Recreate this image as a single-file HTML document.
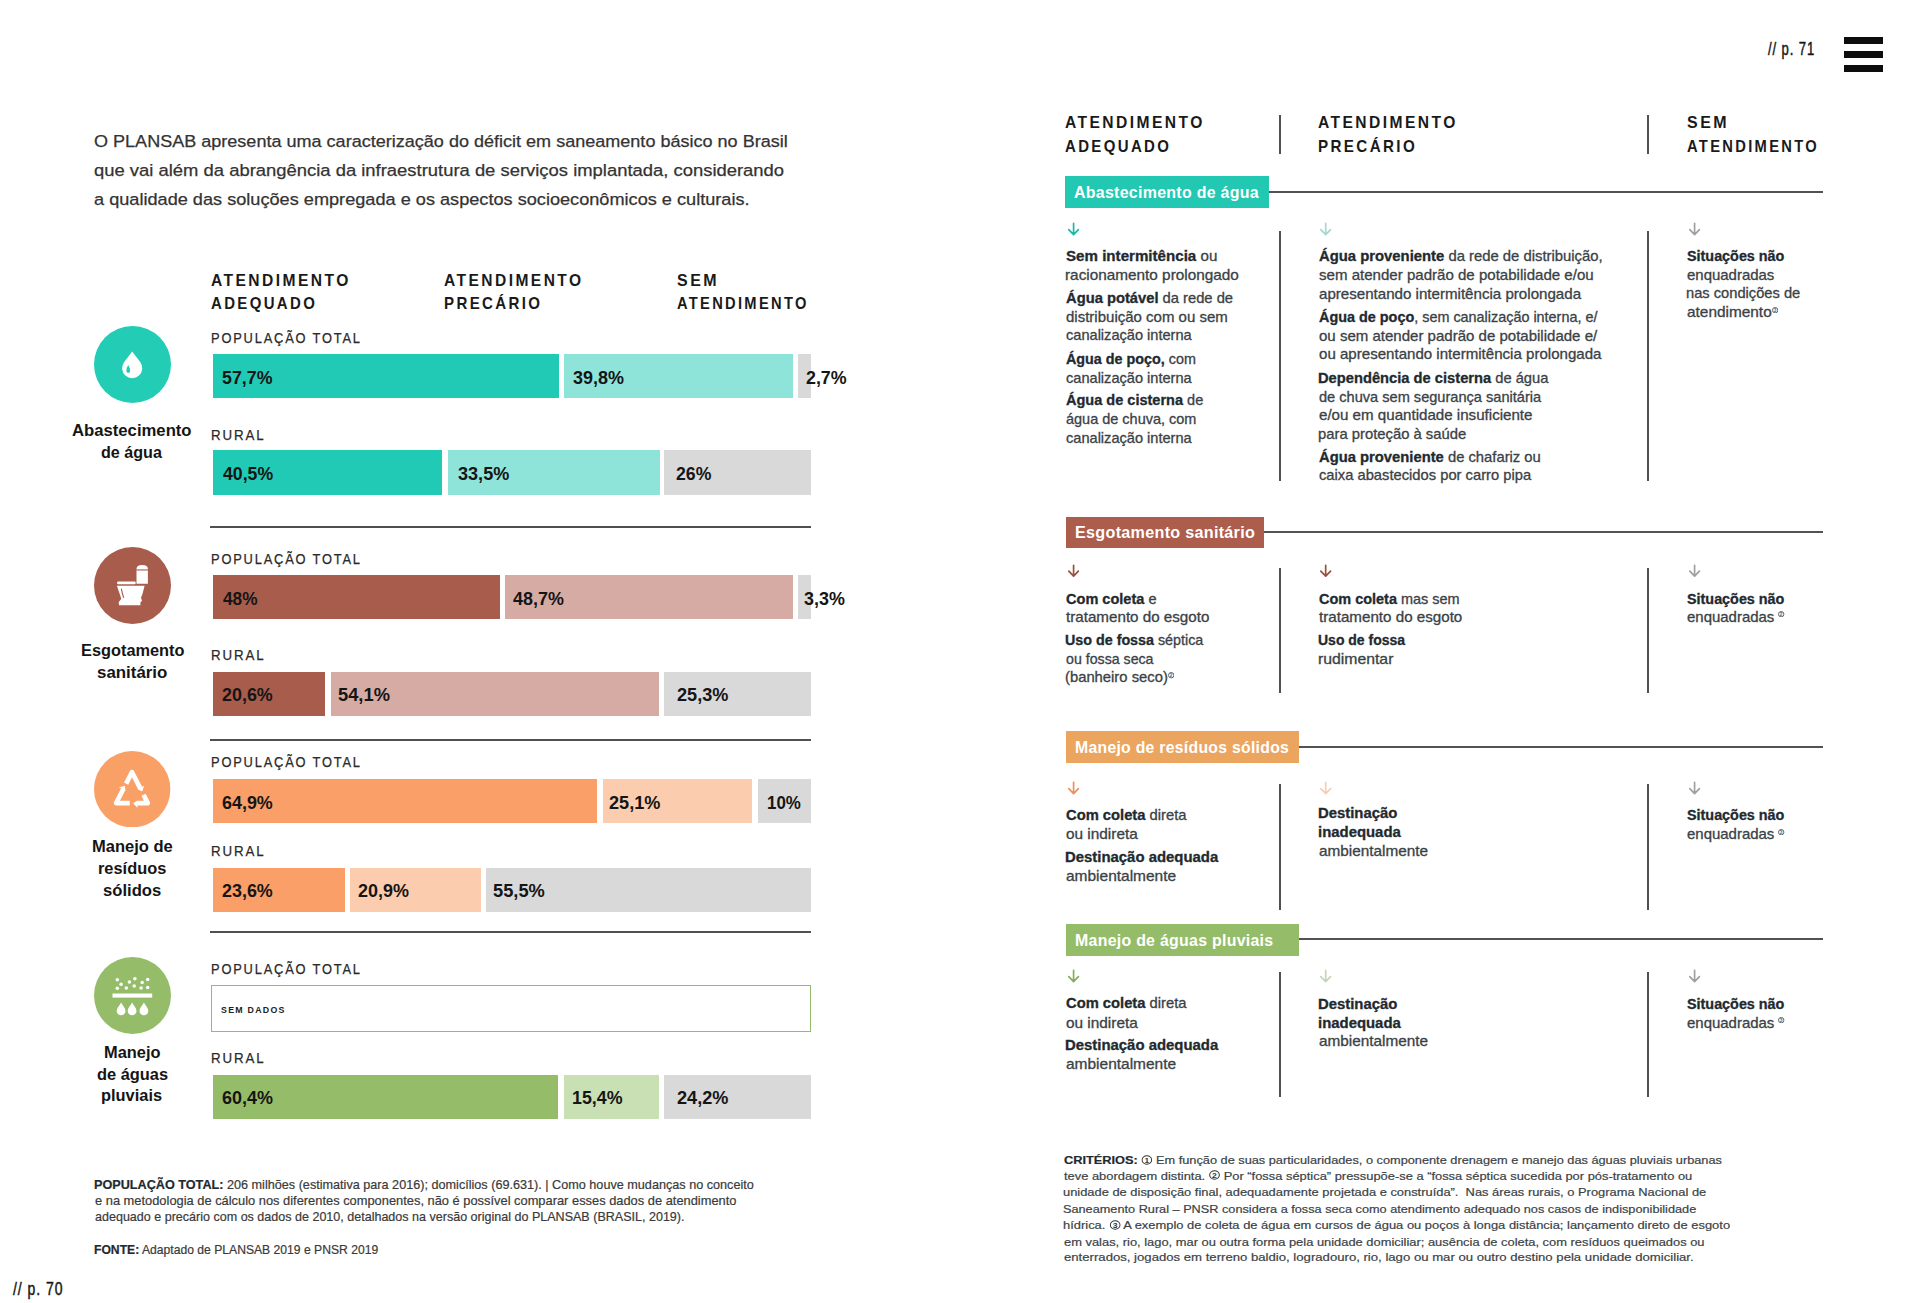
<!DOCTYPE html>
<html lang="pt-BR"><head><meta charset="utf-8"><title>PLANSAB – p. 70-71</title>
<style>
html,body{margin:0;padding:0;background:#fff;}
body{width:1920px;height:1303px;position:relative;overflow:hidden;font-family:"Liberation Sans",sans-serif;}
.r{position:absolute;display:block;}
.t{position:absolute;white-space:nowrap;line-height:normal;transform-origin:0 0;}
.t b{font-weight:700;color:#1f2a30;}
.cn{vertical-align:-0.5px;}
</style></head><body>
<div class="r" style="left:212.6px;top:354px;width:346.9px;height:44.3px;background:#21cab5;"></div>
<div class="r" style="left:564.1px;top:354px;width:229.1px;height:44.3px;background:#8ee4d9;"></div>
<div class="r" style="left:798.2px;top:354px;width:12.5px;height:44.3px;background:#d9d9d9;"></div>
<div class="r" style="left:212.6px;top:450.2px;width:229.6px;height:44.5px;background:#21cab5;"></div>
<div class="r" style="left:447.6px;top:450.2px;width:212px;height:44.5px;background:#8ee4d9;"></div>
<div class="r" style="left:664.4px;top:450.2px;width:146.3px;height:44.5px;background:#d9d9d9;"></div>
<div class="r" style="left:212.6px;top:575.3px;width:287.4px;height:44.2px;background:#a85c4c;"></div>
<div class="r" style="left:505.3px;top:575.3px;width:287.6px;height:44.2px;background:#d5aba3;"></div>
<div class="r" style="left:798.3px;top:575.3px;width:12.4px;height:44.2px;background:#d9d9d9;"></div>
<div class="r" style="left:212.6px;top:671.8px;width:112.4px;height:43.8px;background:#a85c4c;"></div>
<div class="r" style="left:330.5px;top:671.8px;width:328.7px;height:43.8px;background:#d5aba3;"></div>
<div class="r" style="left:664.4px;top:671.8px;width:146.3px;height:43.8px;background:#d9d9d9;"></div>
<div class="r" style="left:212.6px;top:779.4px;width:384.7px;height:44.1px;background:#fa9f68;"></div>
<div class="r" style="left:602.5px;top:779.4px;width:149.8px;height:44.1px;background:#fbcdae;"></div>
<div class="r" style="left:757.7px;top:779.4px;width:53px;height:44.1px;background:#d9d9d9;"></div>
<div class="r" style="left:212.6px;top:868.3px;width:132.1px;height:43.7px;background:#fa9f68;"></div>
<div class="r" style="left:350px;top:868.3px;width:130.5px;height:43.7px;background:#fbcdae;"></div>
<div class="r" style="left:485.7px;top:868.3px;width:325px;height:43.7px;background:#d9d9d9;"></div>
<div class="r" style="left:212.6px;top:1074.7px;width:345.9px;height:44.5px;background:#95bd69;"></div>
<div class="r" style="left:563.8px;top:1074.7px;width:95.4px;height:44.5px;background:#c8e0b3;"></div>
<div class="r" style="left:664.4px;top:1074.7px;width:146.3px;height:44.5px;background:#d9d9d9;"></div>
<div class="r" style="left:210px;top:525.6px;width:601px;height:2px;background:#505050;"></div>
<div class="r" style="left:210px;top:738.6px;width:601px;height:2px;background:#505050;"></div>
<div class="r" style="left:210px;top:930.6px;width:601px;height:2px;background:#505050;"></div>
<div class="r" style="left:210.5px;top:984.8px;width:600.2px;height:46.8px;box-sizing:border-box;border:1.8px solid #95bd69;"></div>
<div class="r" style="left:1268.7px;top:190.8px;width:554.5px;height:2px;background:#525252;"></div>
<div class="r" style="left:1065.4px;top:176.3px;width:203.3px;height:31.3px;background:#22c8b2;"></div>
<div class="r" style="left:1263.8px;top:531.4px;width:559.4px;height:2px;background:#525252;"></div>
<div class="r" style="left:1065.6px;top:516.8px;width:198.2px;height:31.3px;background:#ad5d4c;"></div>
<div class="r" style="left:1298.9px;top:746.1px;width:524.3px;height:2px;background:#525252;"></div>
<div class="r" style="left:1065.6px;top:731.4px;width:233.3px;height:31.3px;background:#eca55f;"></div>
<div class="r" style="left:1298.6px;top:937.6px;width:524.6px;height:2px;background:#525252;"></div>
<div class="r" style="left:1065.5px;top:924.1px;width:233.1px;height:31.7px;background:#95bd69;"></div>
<div class="r" style="left:1279px;top:115.4px;width:2px;height:38.4px;background:#505050;"></div>
<div class="r" style="left:1646.6px;top:115.4px;width:2px;height:38.4px;background:#505050;"></div>
<div class="r" style="left:1279px;top:230.6px;width:2px;height:250.8px;background:#505050;"></div>
<div class="r" style="left:1646.6px;top:230.6px;width:2px;height:250.8px;background:#505050;"></div>
<div class="r" style="left:1279px;top:567.9px;width:2px;height:124.9px;background:#505050;"></div>
<div class="r" style="left:1646.6px;top:567.9px;width:2px;height:124.9px;background:#505050;"></div>
<div class="r" style="left:1279px;top:784.2px;width:2px;height:125.7px;background:#505050;"></div>
<div class="r" style="left:1646.6px;top:784.2px;width:2px;height:125.7px;background:#505050;"></div>
<div class="r" style="left:1279px;top:972px;width:2px;height:125.3px;background:#505050;"></div>
<div class="r" style="left:1646.6px;top:972px;width:2px;height:125.3px;background:#505050;"></div>
<div class="r" style="left:1843.8px;top:37.1px;width:39.5px;height:6.7px;background:#0d0d0d;"></div>
<div class="r" style="left:1843.8px;top:51.2px;width:39.5px;height:6.7px;background:#0d0d0d;"></div>
<div class="r" style="left:1843.8px;top:65.3px;width:39.5px;height:6.8px;background:#0d0d0d;"></div>
<svg class="r" style="left:1067.6px;top:222.6px;overflow:visible" width="11.2" height="12.2" viewBox="0 0 11.2 12.2"><path d="M5.6 0.3 V11.3 M0.8 6.6 L5.6 11.6 L10.4 6.6" fill="none" stroke="#1fb8a4" stroke-width="1.7" stroke-linecap="round" stroke-linejoin="round"/></svg>
<svg class="r" style="left:1319.8px;top:222.6px;overflow:visible" width="11.4" height="12.2" viewBox="0 0 11.4 12.2"><path d="M5.7 0.3 V11.3 M0.8 6.6 L5.7 11.6 L10.6 6.6" fill="none" stroke="#a9d6ce" stroke-width="1.7" stroke-linecap="round" stroke-linejoin="round"/></svg>
<svg class="r" style="left:1689.2px;top:222.6px;overflow:visible" width="11.2" height="12.2" viewBox="0 0 11.2 12.2"><path d="M5.6 0.3 V11.3 M0.8 6.6 L5.6 11.6 L10.4 6.6" fill="none" stroke="#a0a0a0" stroke-width="1.7" stroke-linecap="round" stroke-linejoin="round"/></svg>
<svg class="r" style="left:1067.6px;top:564.8px;overflow:visible" width="11.2" height="11.8" viewBox="0 0 11.2 11.8"><path d="M5.6 0.3 V10.9 M0.8 6.2 L5.6 11.2 L10.4 6.2" fill="none" stroke="#98503f" stroke-width="1.7" stroke-linecap="round" stroke-linejoin="round"/></svg>
<svg class="r" style="left:1319.8px;top:564.8px;overflow:visible" width="11.4" height="11.8" viewBox="0 0 11.4 11.8"><path d="M5.7 0.3 V10.9 M0.8 6.2 L5.7 11.2 L10.6 6.2" fill="none" stroke="#98503f" stroke-width="1.7" stroke-linecap="round" stroke-linejoin="round"/></svg>
<svg class="r" style="left:1689.2px;top:564.8px;overflow:visible" width="11.2" height="11.8" viewBox="0 0 11.2 11.8"><path d="M5.6 0.3 V10.9 M0.8 6.2 L5.6 11.2 L10.4 6.2" fill="none" stroke="#a0a0a0" stroke-width="1.7" stroke-linecap="round" stroke-linejoin="round"/></svg>
<svg class="r" style="left:1067.6px;top:781.6px;overflow:visible" width="11.2" height="12.2" viewBox="0 0 11.2 12.2"><path d="M5.6 0.3 V11.3 M0.8 6.6 L5.6 11.6 L10.4 6.6" fill="none" stroke="#f08f5a" stroke-width="1.7" stroke-linecap="round" stroke-linejoin="round"/></svg>
<svg class="r" style="left:1319.8px;top:781.6px;overflow:visible" width="11.4" height="12.2" viewBox="0 0 11.4 12.2"><path d="M5.7 0.3 V11.3 M0.8 6.6 L5.7 11.6 L10.6 6.6" fill="none" stroke="#f8cdb4" stroke-width="1.7" stroke-linecap="round" stroke-linejoin="round"/></svg>
<svg class="r" style="left:1689.2px;top:781.6px;overflow:visible" width="11.2" height="12.2" viewBox="0 0 11.2 12.2"><path d="M5.6 0.3 V11.3 M0.8 6.6 L5.6 11.6 L10.4 6.6" fill="none" stroke="#a0a0a0" stroke-width="1.7" stroke-linecap="round" stroke-linejoin="round"/></svg>
<svg class="r" style="left:1067.6px;top:969.9px;overflow:visible" width="11.2" height="12.2" viewBox="0 0 11.2 12.2"><path d="M5.6 0.3 V11.3 M0.8 6.6 L5.6 11.6 L10.4 6.6" fill="none" stroke="#86ad5e" stroke-width="1.7" stroke-linecap="round" stroke-linejoin="round"/></svg>
<svg class="r" style="left:1319.8px;top:969.9px;overflow:visible" width="11.4" height="12.2" viewBox="0 0 11.4 12.2"><path d="M5.7 0.3 V11.3 M0.8 6.6 L5.7 11.6 L10.6 6.6" fill="none" stroke="#c6d4b7" stroke-width="1.7" stroke-linecap="round" stroke-linejoin="round"/></svg>
<svg class="r" style="left:1689.2px;top:969.9px;overflow:visible" width="11.2" height="12.2" viewBox="0 0 11.2 12.2"><path d="M5.6 0.3 V11.3 M0.8 6.6 L5.6 11.6 L10.4 6.6" fill="none" stroke="#a0a0a0" stroke-width="1.7" stroke-linecap="round" stroke-linejoin="round"/></svg>
<svg class="r" style="left:93.9px;top:326.3px" width="77" height="77" viewBox="93.9 326.3 77 77"><circle cx="132.4" cy="364.8" r="38.5" fill="#22ccb5"/><path d="M132.1 351.9 L140.11 362.3 A10.1 10.1 0 1 1 124.09 362.3 Z" fill="#fff"/><path d="M128.1 365.4 Q130.1 368.6 130.05 371.2 A1.9 1.9 0 0 1 126.25 371.2 Q126.2 368.6 128.1 365.4 Z" fill="#21cab5"/></svg>
<svg class="r" style="left:94.3px;top:546.7px" width="77" height="77" viewBox="94.3 546.7 77 77"><circle cx="132.8" cy="585.2" r="38.5" fill="#a85c4c"/><path d="M136.8 583.5 V568.6 Q136.8 564.7 142.5 564.7 Q148.2 564.7 148.2 568.6 V583.5 Z" fill="#fff"/><rect x="136.5" y="569.1" width="12" height="1.1" fill="#a85c4c"/><rect x="117.4" y="581.1" width="18.6" height="2.9" rx="1.1" fill="#fff"/><path d="M117.2 585.5 H144.9 L142.9 593.2 L141.3 597.4 L142.3 600.4 L140.7 602.2 V604.9 H119.3 L119.0 601.9 L121.6 598.4 Z" fill="#fff"/><path d="M121.6 588.3 Q122.6 593.2 124.0 597.6" fill="none" stroke="#a85c4c" stroke-width="1.1"/></svg>
<svg class="r" style="left:94.3px;top:750.8px" width="76.4" height="76.4" viewBox="94.3 750.8 76.4 76.4"><circle cx="132.5" cy="789" r="38.2" fill="#f9a066"/><g fill="none" stroke="#fff" stroke-width="4.7" stroke-linejoin="round" stroke-linecap="butt"><path d="M126.42 783.43 L132.30 772.00 L140.48 787.99"/><path d="M143.83 794.56 L148.10 802.90 L137.42 802.90"/><path d="M130.03 802.90 L116.40 802.90 L123.52 789.06"/></g><g fill="#fff"><path d="M137.98 788.93 L144.48 785.61 L142.43 791.38 Z"/><path d="M137.72 800.25 L137.72 807.55 L133.52 803.10 Z"/><path d="M125.74 790.54 L119.25 787.20 L125.13 785.50 Z"/></g></svg>
<svg class="r" style="left:94px;top:957px" width="77" height="77" viewBox="94 957 77 77"><circle cx="132.5" cy="995.5" r="38.5" fill="#95bd69"/><circle cx="117.3" cy="979.7" r="1.75" fill="#fff"/><circle cx="129.4" cy="982.1" r="1.75" fill="#fff"/><circle cx="134.9" cy="978.7" r="1.75" fill="#fff"/><circle cx="147.7" cy="979.4" r="1.75" fill="#fff"/><circle cx="121.1" cy="984.2" r="1.75" fill="#fff"/><circle cx="134.2" cy="985.9" r="1.75" fill="#fff"/><circle cx="142.2" cy="982.5" r="1.75" fill="#fff"/><circle cx="117.3" cy="988.3" r="1.75" fill="#fff"/><circle cx="126.3" cy="988" r="1.75" fill="#fff"/><circle cx="141.1" cy="988" r="1.75" fill="#fff"/><circle cx="147.7" cy="987.6" r="1.75" fill="#fff"/><rect x="112.5" y="993.5" width="39.7" height="4.1" fill="#fff"/><path d="M121.1 1002.5 C119.6 1005.5 116.69999999999999 1008 116.69999999999999 1010.9 A4.4 4.4 0 0 0 125.5 1010.9 C125.5 1008 122.6 1005.5 121.1 1002.5 Z" fill="#fff"/><path d="M132.1 1002.5 C130.6 1005.5 127.69999999999999 1008 127.69999999999999 1010.9 A4.4 4.4 0 0 0 136.5 1010.9 C136.5 1008 133.6 1005.5 132.1 1002.5 Z" fill="#fff"/><path d="M143.9 1002.5 C142.4 1005.5 139.5 1008 139.5 1010.9 A4.4 4.4 0 0 0 148.3 1010.9 C148.3 1008 145.4 1005.5 143.9 1002.5 Z" fill="#fff"/></svg>
<svg class="r" style="left:1771.9px;top:306.8px" width="6.4" height="6.4" viewBox="0 0 6.4 6.4"><circle cx="3.2" cy="3.2" r="2.7" fill="none" stroke="#5f6468" stroke-width="1.0"/><text x="3.2" y="5.1" font-size="4.8" text-anchor="middle" fill="#5f6468" font-family="Liberation Sans" font-weight="700">3</text></svg>
<svg class="r" style="left:1167.8px;top:672.4px" width="6.4" height="6.4" viewBox="0 0 6.4 6.4"><circle cx="3.2" cy="3.2" r="2.7" fill="none" stroke="#5f6468" stroke-width="1.0"/><text x="3.2" y="5.1" font-size="4.8" text-anchor="middle" fill="#5f6468" font-family="Liberation Sans" font-weight="700">2</text></svg>
<svg class="r" style="left:1778.4px;top:611px" width="6.4" height="6.4" viewBox="0 0 6.4 6.4"><circle cx="3.2" cy="3.2" r="2.7" fill="none" stroke="#5f6468" stroke-width="1.0"/><text x="3.2" y="5.1" font-size="4.8" text-anchor="middle" fill="#5f6468" font-family="Liberation Sans" font-weight="700">2</text></svg>
<svg class="r" style="left:1778.4px;top:829px" width="6.4" height="6.4" viewBox="0 0 6.4 6.4"><circle cx="3.2" cy="3.2" r="2.7" fill="none" stroke="#5f6468" stroke-width="1.0"/><text x="3.2" y="5.1" font-size="4.8" text-anchor="middle" fill="#5f6468" font-family="Liberation Sans" font-weight="700">3</text></svg>
<svg class="r" style="left:1778.3px;top:1016.5px" width="6.4" height="6.4" viewBox="0 0 6.4 6.4"><circle cx="3.2" cy="3.2" r="2.7" fill="none" stroke="#5f6468" stroke-width="1.0"/><text x="3.2" y="5.1" font-size="4.8" text-anchor="middle" fill="#5f6468" font-family="Liberation Sans" font-weight="700">3</text></svg>
<div class="t" style="left:94.22px;top:132.14px;font-size:16.7px;font-weight:400;letter-spacing:0px;color:#333333;transform:scaleX(1.0808);-webkit-text-stroke-width:0.25px;">O PLANSAB apresenta uma caracterização do déficit em saneamento básico no Brasil</div>
<div class="t" style="left:94.2px;top:161.34px;font-size:16.7px;font-weight:400;letter-spacing:0px;color:#333333;transform:scaleX(1.1037);-webkit-text-stroke-width:0.25px;">que vai além da abrangência da infraestrutura de serviços implantada, considerando</div>
<div class="t" style="left:94.21px;top:189.64px;font-size:16.7px;font-weight:400;letter-spacing:0px;color:#333333;transform:scaleX(1.0873);-webkit-text-stroke-width:0.25px;">a qualidade das soluções empregada e os aspectos socioeconômicos e culturais.</div>
<div class="t" style="left:211.06px;top:270.53px;font-size:16.6px;font-weight:700;letter-spacing:2.6px;color:#1a1a1a;transform:scaleX(0.9400);">ATENDIMENTO</div>
<div class="t" style="left:211.1px;top:293.93px;font-size:16.6px;font-weight:700;letter-spacing:2.6px;color:#1a1a1a;transform:scaleX(0.9027);">ADEQUADO</div>
<div class="t" style="left:444.06px;top:270.53px;font-size:16.6px;font-weight:700;letter-spacing:2.6px;color:#1a1a1a;transform:scaleX(0.9379);">ATENDIMENTO</div>
<div class="t" style="left:444.09px;top:293.93px;font-size:16.6px;font-weight:700;letter-spacing:2.6px;color:#1a1a1a;transform:scaleX(0.9077);">PRECÁRIO</div>
<div class="t" style="left:677.04px;top:270.53px;font-size:16.6px;font-weight:700;letter-spacing:2.6px;color:#1a1a1a;transform:scaleX(0.9615);">SEM</div>
<div class="t" style="left:677.12px;top:293.93px;font-size:16.6px;font-weight:700;letter-spacing:2.6px;color:#1a1a1a;transform:scaleX(0.8848);">ATENDIMENTO</div>
<div class="t" style="left:211.4px;top:329.84px;font-size:14.3px;font-weight:400;letter-spacing:2.0px;color:#2a2a2a;transform:scaleX(0.9006);-webkit-text-stroke-width:0.25px;">POPULAÇÃO TOTAL</div>
<div class="t" style="left:211.4px;top:550.54px;font-size:14.3px;font-weight:400;letter-spacing:2.0px;color:#2a2a2a;transform:scaleX(0.9006);-webkit-text-stroke-width:0.25px;">POPULAÇÃO TOTAL</div>
<div class="t" style="left:211.4px;top:754.34px;font-size:14.3px;font-weight:400;letter-spacing:2.0px;color:#2a2a2a;transform:scaleX(0.9006);-webkit-text-stroke-width:0.25px;">POPULAÇÃO TOTAL</div>
<div class="t" style="left:211.4px;top:961.34px;font-size:14.3px;font-weight:400;letter-spacing:2.0px;color:#2a2a2a;transform:scaleX(0.9006);-webkit-text-stroke-width:0.25px;">POPULAÇÃO TOTAL</div>
<div class="t" style="left:211.37px;top:427.34px;font-size:14.3px;font-weight:400;letter-spacing:2.0px;color:#2a2a2a;transform:scaleX(0.9309);-webkit-text-stroke-width:0.25px;">RURAL</div>
<div class="t" style="left:211.37px;top:646.84px;font-size:14.3px;font-weight:400;letter-spacing:2.0px;color:#2a2a2a;transform:scaleX(0.9309);-webkit-text-stroke-width:0.25px;">RURAL</div>
<div class="t" style="left:211.37px;top:842.84px;font-size:14.3px;font-weight:400;letter-spacing:2.0px;color:#2a2a2a;transform:scaleX(0.9309);-webkit-text-stroke-width:0.25px;">RURAL</div>
<div class="t" style="left:211.37px;top:1049.64px;font-size:14.3px;font-weight:400;letter-spacing:2.0px;color:#2a2a2a;transform:scaleX(0.9309);-webkit-text-stroke-width:0.25px;">RURAL</div>
<div class="t" style="left:222.26px;top:366.52px;font-size:19.0px;font-weight:700;letter-spacing:0px;color:#151515;transform:scaleX(0.9365);">57,7%</div>
<div class="t" style="left:573.45px;top:366.52px;font-size:19.0px;font-weight:700;letter-spacing:0px;color:#151515;transform:scaleX(0.9462);">39,8%</div>
<div class="t" style="left:806.46px;top:366.52px;font-size:19.0px;font-weight:700;letter-spacing:0px;color:#151515;transform:scaleX(0.9381);">2,7%</div>
<div class="t" style="left:222.7px;top:462.52px;font-size:19.0px;font-weight:700;letter-spacing:0px;color:#151515;transform:scaleX(0.9321);">40,5%</div>
<div class="t" style="left:457.55px;top:462.52px;font-size:19.0px;font-weight:700;letter-spacing:0px;color:#151515;transform:scaleX(0.9519);">33,5%</div>
<div class="t" style="left:676.37px;top:462.52px;font-size:19.0px;font-weight:700;letter-spacing:0px;color:#151515;transform:scaleX(0.9297);">26%</div>
<div class="t" style="left:222.5px;top:587.72px;font-size:19.0px;font-weight:700;letter-spacing:0px;color:#151515;transform:scaleX(0.9079);">48%</div>
<div class="t" style="left:513.3px;top:587.72px;font-size:19.0px;font-weight:700;letter-spacing:0px;color:#151515;transform:scaleX(0.9434);">48,7%</div>
<div class="t" style="left:804.06px;top:587.72px;font-size:19.0px;font-weight:700;letter-spacing:0px;color:#151515;transform:scaleX(0.9429);">3,3%</div>
<div class="t" style="left:222.06px;top:684.22px;font-size:19.0px;font-weight:700;letter-spacing:0px;color:#151515;transform:scaleX(0.9423);">20,6%</div>
<div class="t" style="left:337.74px;top:684.22px;font-size:19.0px;font-weight:700;letter-spacing:0px;color:#151515;transform:scaleX(0.9635);">54,1%</div>
<div class="t" style="left:677.35px;top:684.22px;font-size:19.0px;font-weight:700;letter-spacing:0px;color:#151515;transform:scaleX(0.9538);">25,3%</div>
<div class="t" style="left:222.06px;top:791.52px;font-size:19.0px;font-weight:700;letter-spacing:0px;color:#151515;transform:scaleX(0.9423);">64,9%</div>
<div class="t" style="left:608.65px;top:791.52px;font-size:19.0px;font-weight:700;letter-spacing:0px;color:#151515;transform:scaleX(0.9538);">25,1%</div>
<div class="t" style="left:766.61px;top:791.52px;font-size:19.0px;font-weight:700;letter-spacing:0px;color:#151515;transform:scaleX(0.8892);">10%</div>
<div class="t" style="left:222.06px;top:880.02px;font-size:19.0px;font-weight:700;letter-spacing:0px;color:#151515;transform:scaleX(0.9423);">23,6%</div>
<div class="t" style="left:357.85px;top:880.02px;font-size:19.0px;font-weight:700;letter-spacing:0px;color:#151515;transform:scaleX(0.9462);">20,9%</div>
<div class="t" style="left:493.24px;top:880.02px;font-size:19.0px;font-weight:700;letter-spacing:0px;color:#151515;transform:scaleX(0.9615);">55,5%</div>
<div class="t" style="left:221.85px;top:1087.22px;font-size:19.0px;font-weight:700;letter-spacing:0px;color:#151515;transform:scaleX(0.9462);">60,4%</div>
<div class="t" style="left:572.36px;top:1087.22px;font-size:19.0px;font-weight:700;letter-spacing:0px;color:#151515;transform:scaleX(0.9385);">15,4%</div>
<div class="t" style="left:677.35px;top:1087.22px;font-size:19.0px;font-weight:700;letter-spacing:0px;color:#151515;transform:scaleX(0.9538);">24,2%</div>
<div class="t" style="left:221.3px;top:1003.98px;font-size:9.8px;font-weight:700;letter-spacing:1.4px;color:#222222;transform:scaleX(0.8986);">SEM DADOS</div>
<div class="t" style="left:72.49px;top:421.13px;font-size:16.6px;font-weight:700;letter-spacing:0px;color:#151515;transform:scaleX(1.0051);">Abastecimento</div>
<div class="t" style="left:101.33px;top:442.63px;font-size:16.6px;font-weight:700;letter-spacing:0px;color:#151515;transform:scaleX(0.9710);">de água</div>
<div class="t" style="left:80.52px;top:640.63px;font-size:16.6px;font-weight:700;letter-spacing:0px;color:#151515;transform:scaleX(0.9846);">Esgotamento</div>
<div class="t" style="left:96.78px;top:662.73px;font-size:16.6px;font-weight:700;letter-spacing:0px;color:#151515;transform:scaleX(1.0176);">sanitário</div>
<div class="t" style="left:91.6px;top:837.13px;font-size:16.6px;font-weight:700;letter-spacing:0px;color:#151515;transform:scaleX(0.9950);">Manejo de</div>
<div class="t" style="left:97.51px;top:859.03px;font-size:16.6px;font-weight:700;letter-spacing:0px;color:#151515;transform:scaleX(0.9868);">resíduos</div>
<div class="t" style="left:103.3px;top:881.23px;font-size:16.6px;font-weight:700;letter-spacing:0px;color:#151515;transform:scaleX(1.0018);">sólidos</div>
<div class="t" style="left:104.01px;top:1043.23px;font-size:16.6px;font-weight:700;letter-spacing:0px;color:#151515;transform:scaleX(0.9893);">Manejo</div>
<div class="t" style="left:96.81px;top:1065.33px;font-size:16.6px;font-weight:700;letter-spacing:0px;color:#151515;transform:scaleX(0.9886);">de águas</div>
<div class="t" style="left:101.41px;top:1086.23px;font-size:16.6px;font-weight:700;letter-spacing:0px;color:#151515;transform:scaleX(0.9883);">pluviais</div>
<div class="t" style="left:94.25px;top:1177.62px;font-size:12.1px;font-weight:400;letter-spacing:0px;color:#3a3a3a;transform:scaleX(1.0454);-webkit-text-stroke-width:0.2px;"><b>POPULAÇÃO TOTAL:</b> 206 milhões (estimativa para 2016); domicílios (69.631). | Como houve mudanças no conceito</div>
<div class="t" style="left:95.3px;top:1194.17px;font-size:12.1px;font-weight:400;letter-spacing:0px;color:#3a3a3a;transform:scaleX(1.0637);-webkit-text-stroke-width:0.2px;">e na metodologia de cálculo nos diferentes componentes, não é possível comparar esses dados de atendimento</div>
<div class="t" style="left:95.3px;top:1209.87px;font-size:12.1px;font-weight:400;letter-spacing:0px;color:#3a3a3a;transform:scaleX(1.0364);-webkit-text-stroke-width:0.2px;">adequado e precário com os dados de 2010, detalhados na versão original do PLANSAB (BRASIL, 2019).</div>
<div class="t" style="left:94.3px;top:1242.87px;font-size:12.1px;font-weight:400;letter-spacing:0px;color:#3a3a3a;transform:scaleX(1.0043);-webkit-text-stroke-width:0.2px;"><b>FONTE:</b> Adaptado de PLANSAB 2019 e PNSR 2019</div>
<div class="t" style="left:12.5px;top:1278.8px;font-size:17.5px;font-weight:400;letter-spacing:1.2px;color:#151515;transform:scaleX(0.7984);-webkit-text-stroke-width:0.45px;">// p. 70</div>
<div class="t" style="left:1767.9px;top:38.5px;font-size:17.5px;font-weight:400;letter-spacing:1.2px;color:#151515;transform:scaleX(0.7468);-webkit-text-stroke-width:0.45px;">// p. 71</div>
<div class="t" style="left:1065.26px;top:113.43px;font-size:16.6px;font-weight:700;letter-spacing:2.6px;color:#1a1a1a;transform:scaleX(0.9400);">ATENDIMENTO</div>
<div class="t" style="left:1065.3px;top:136.93px;font-size:16.6px;font-weight:700;letter-spacing:2.6px;color:#1a1a1a;transform:scaleX(0.9035);">ADEQUADO</div>
<div class="t" style="left:1317.76px;top:113.43px;font-size:16.6px;font-weight:700;letter-spacing:2.6px;color:#1a1a1a;transform:scaleX(0.9400);">ATENDIMENTO</div>
<div class="t" style="left:1317.79px;top:136.93px;font-size:16.6px;font-weight:700;letter-spacing:2.6px;color:#1a1a1a;transform:scaleX(0.9139);">PRECÁRIO</div>
<div class="t" style="left:1686.54px;top:113.43px;font-size:16.6px;font-weight:700;letter-spacing:2.6px;color:#1a1a1a;transform:scaleX(0.9615);">SEM</div>
<div class="t" style="left:1686.61px;top:136.93px;font-size:16.6px;font-weight:700;letter-spacing:2.6px;color:#1a1a1a;transform:scaleX(0.8879);">ATENDIMENTO</div>
<div class="t" style="left:1074.34px;top:183.03px;font-size:16.6px;font-weight:700;letter-spacing:0.3px;color:#ffffff;transform:scaleX(0.9602);">Abastecimento de água</div>
<div class="t" style="left:1075.03px;top:523.43px;font-size:16.6px;font-weight:700;letter-spacing:0.3px;color:#ffffff;transform:scaleX(0.9727);">Esgotamento sanitário</div>
<div class="t" style="left:1074.75px;top:737.93px;font-size:16.6px;font-weight:700;letter-spacing:0.3px;color:#ffffff;transform:scaleX(0.9500);">Manejo de resíduos sólidos</div>
<div class="t" style="left:1075.14px;top:931.13px;font-size:16.6px;font-weight:700;letter-spacing:0.3px;color:#ffffff;transform:scaleX(0.9571);">Manejo de águas pluviais</div>
<div class="t" style="left:1066px;top:248.21px;font-size:13.9px;font-weight:400;letter-spacing:0px;color:#3b4246;transform:scaleX(1.0888);-webkit-text-stroke-width:0.3px;"><b>Sem intermitência</b> ou</div>
<div class="t" style="left:1064.9px;top:266.96px;font-size:13.9px;font-weight:400;letter-spacing:0px;color:#3b4246;transform:scaleX(1.1032);-webkit-text-stroke-width:0.3px;">racionamento prolongado</div>
<div class="t" style="left:1066px;top:290.31px;font-size:13.9px;font-weight:400;letter-spacing:0px;color:#3b4246;transform:scaleX(1.0605);-webkit-text-stroke-width:0.3px;"><b>Água potável</b> da rede de</div>
<div class="t" style="left:1066px;top:308.71px;font-size:13.9px;font-weight:400;letter-spacing:0px;color:#3b4246;transform:scaleX(1.0805);-webkit-text-stroke-width:0.3px;">distribuição com ou sem</div>
<div class="t" style="left:1066px;top:327.21px;font-size:13.9px;font-weight:400;letter-spacing:0px;color:#3b4246;transform:scaleX(1.0500);-webkit-text-stroke-width:0.3px;">canalização interna</div>
<div class="t" style="left:1066px;top:350.71px;font-size:13.9px;font-weight:400;letter-spacing:0px;color:#3b4246;transform:scaleX(1.0320);-webkit-text-stroke-width:0.3px;"><b>Água de poço,</b> com</div>
<div class="t" style="left:1066px;top:369.71px;font-size:13.9px;font-weight:400;letter-spacing:0px;color:#3b4246;transform:scaleX(1.0500);-webkit-text-stroke-width:0.3px;">canalização interna</div>
<div class="t" style="left:1066px;top:392.21px;font-size:13.9px;font-weight:400;letter-spacing:0px;color:#3b4246;transform:scaleX(1.0458);-webkit-text-stroke-width:0.3px;"><b>Água de cisterna</b> de</div>
<div class="t" style="left:1066px;top:411.21px;font-size:13.9px;font-weight:400;letter-spacing:0px;color:#3b4246;transform:scaleX(1.0420);-webkit-text-stroke-width:0.3px;">água de chuva, com</div>
<div class="t" style="left:1066px;top:430.31px;font-size:13.9px;font-weight:400;letter-spacing:0px;color:#3b4246;transform:scaleX(1.0500);-webkit-text-stroke-width:0.3px;">canalização interna</div>
<div class="t" style="left:1318.7px;top:248.01px;font-size:13.9px;font-weight:400;letter-spacing:0px;color:#3b4246;transform:scaleX(1.0679);-webkit-text-stroke-width:0.3px;"><b>Água proveniente</b> da rede de distribuição,</div>
<div class="t" style="left:1318.7px;top:267.21px;font-size:13.9px;font-weight:400;letter-spacing:0px;color:#3b4246;transform:scaleX(1.0842);-webkit-text-stroke-width:0.3px;">sem atender padrão de potabilidade e/ou</div>
<div class="t" style="left:1318.7px;top:285.51px;font-size:13.9px;font-weight:400;letter-spacing:0px;color:#3b4246;transform:scaleX(1.0876);-webkit-text-stroke-width:0.3px;">apresentando intermitência prolongada</div>
<div class="t" style="left:1318.7px;top:308.91px;font-size:13.9px;font-weight:400;letter-spacing:0px;color:#3b4246;transform:scaleX(1.0364);-webkit-text-stroke-width:0.3px;"><b>Água de poço</b>, sem canalização interna, e/</div>
<div class="t" style="left:1318.7px;top:328.01px;font-size:13.9px;font-weight:400;letter-spacing:0px;color:#3b4246;transform:scaleX(1.0817);-webkit-text-stroke-width:0.3px;">ou sem atender padrão de potabilidade e/</div>
<div class="t" style="left:1318.7px;top:346.41px;font-size:13.9px;font-weight:400;letter-spacing:0px;color:#3b4246;transform:scaleX(1.0854);-webkit-text-stroke-width:0.3px;">ou apresentando intermitência prolongada</div>
<div class="t" style="left:1317.64px;top:369.71px;font-size:13.9px;font-weight:400;letter-spacing:0px;color:#3b4246;transform:scaleX(1.0581);-webkit-text-stroke-width:0.3px;"><b>Dependência de cisterna</b> de água</div>
<div class="t" style="left:1318.7px;top:388.51px;font-size:13.9px;font-weight:400;letter-spacing:0px;color:#3b4246;transform:scaleX(1.0500);-webkit-text-stroke-width:0.3px;">de chuva sem segurança sanitária</div>
<div class="t" style="left:1318.7px;top:407.21px;font-size:13.9px;font-weight:400;letter-spacing:0px;color:#3b4246;transform:scaleX(1.0883);-webkit-text-stroke-width:0.3px;">e/ou em quantidade insuficiente</div>
<div class="t" style="left:1317.63px;top:425.91px;font-size:13.9px;font-weight:400;letter-spacing:0px;color:#3b4246;transform:scaleX(1.0659);-webkit-text-stroke-width:0.3px;">para proteção à saúde</div>
<div class="t" style="left:1318.7px;top:448.91px;font-size:13.9px;font-weight:400;letter-spacing:0px;color:#3b4246;transform:scaleX(1.0639);-webkit-text-stroke-width:0.3px;"><b>Água proveniente</b> de chafariz ou</div>
<div class="t" style="left:1318.7px;top:467.21px;font-size:13.9px;font-weight:400;letter-spacing:0px;color:#3b4246;transform:scaleX(1.0605);-webkit-text-stroke-width:0.3px;">caixa abastecidos por carro pipa</div>
<div class="t" style="left:1687.4px;top:248.21px;font-size:13.9px;font-weight:400;letter-spacing:0px;color:#3b4246;transform:scaleX(1.0340);-webkit-text-stroke-width:0.3px;"><b>Situações não</b></div>
<div class="t" style="left:1687.4px;top:266.71px;font-size:13.9px;font-weight:400;letter-spacing:0px;color:#3b4246;transform:scaleX(1.0765);-webkit-text-stroke-width:0.3px;">enquadradas</div>
<div class="t" style="left:1686.34px;top:285.46px;font-size:13.9px;font-weight:400;letter-spacing:0px;color:#3b4246;transform:scaleX(1.0570);-webkit-text-stroke-width:0.3px;">nas condições de</div>
<div class="t" style="left:1687.4px;top:304.01px;font-size:13.9px;font-weight:400;letter-spacing:0px;color:#3b4246;transform:scaleX(1.1079);-webkit-text-stroke-width:0.3px;">atendimento</div>
<div class="t" style="left:1066px;top:590.51px;font-size:13.9px;font-weight:400;letter-spacing:0px;color:#3b4246;transform:scaleX(1.0465);-webkit-text-stroke-width:0.3px;"><b>Com coleta</b> e</div>
<div class="t" style="left:1066px;top:608.91px;font-size:13.9px;font-weight:400;letter-spacing:0px;color:#3b4246;transform:scaleX(1.0924);-webkit-text-stroke-width:0.3px;">tratamento do esgoto</div>
<div class="t" style="left:1064.97px;top:632.11px;font-size:13.9px;font-weight:400;letter-spacing:0px;color:#3b4246;transform:scaleX(1.0291);-webkit-text-stroke-width:0.3px;"><b>Uso de fossa</b> séptica</div>
<div class="t" style="left:1066px;top:650.81px;font-size:13.9px;font-weight:400;letter-spacing:0px;color:#3b4246;transform:scaleX(1.0209);-webkit-text-stroke-width:0.3px;">ou fossa seca</div>
<div class="t" style="left:1064.93px;top:669.21px;font-size:13.9px;font-weight:400;letter-spacing:0px;color:#3b4246;transform:scaleX(1.0653);-webkit-text-stroke-width:0.3px;">(banheiro seco)</div>
<div class="t" style="left:1318.7px;top:590.91px;font-size:13.9px;font-weight:400;letter-spacing:0px;color:#3b4246;transform:scaleX(1.0407);-webkit-text-stroke-width:0.3px;"><b>Com coleta</b> mas sem</div>
<div class="t" style="left:1318.7px;top:609.21px;font-size:13.9px;font-weight:400;letter-spacing:0px;color:#3b4246;transform:scaleX(1.0916);-webkit-text-stroke-width:0.3px;">tratamento do esgoto</div>
<div class="t" style="left:1317.69px;top:632.21px;font-size:13.9px;font-weight:400;letter-spacing:0px;color:#3b4246;transform:scaleX(1.0070);-webkit-text-stroke-width:0.3px;"><b>Uso de fossa</b></div>
<div class="t" style="left:1317.56px;top:651.41px;font-size:13.9px;font-weight:400;letter-spacing:0px;color:#3b4246;transform:scaleX(1.1354);-webkit-text-stroke-width:0.3px;">rudimentar</div>
<div class="t" style="left:1687.4px;top:590.81px;font-size:13.9px;font-weight:400;letter-spacing:0px;color:#3b4246;transform:scaleX(1.0340);-webkit-text-stroke-width:0.3px;"><b>Situações não</b></div>
<div class="t" style="left:1687.4px;top:609.41px;font-size:13.9px;font-weight:400;letter-spacing:0px;color:#3b4246;transform:scaleX(1.0765);-webkit-text-stroke-width:0.3px;">enquadradas</div>
<div class="t" style="left:1066px;top:806.71px;font-size:13.9px;font-weight:400;letter-spacing:0px;color:#3b4246;transform:scaleX(1.0614);-webkit-text-stroke-width:0.3px;"><b>Com coleta</b> direta</div>
<div class="t" style="left:1066px;top:826.01px;font-size:13.9px;font-weight:400;letter-spacing:0px;color:#3b4246;transform:scaleX(1.1062);-webkit-text-stroke-width:0.3px;">ou indireta</div>
<div class="t" style="left:1064.93px;top:848.81px;font-size:13.9px;font-weight:400;letter-spacing:0px;color:#3b4246;transform:scaleX(1.0725);-webkit-text-stroke-width:0.3px;"><b>Destinação adequada</b></div>
<div class="t" style="left:1066px;top:867.51px;font-size:13.9px;font-weight:400;letter-spacing:0px;color:#3b4246;transform:scaleX(1.1143);-webkit-text-stroke-width:0.3px;">ambientalmente</div>
<div class="t" style="left:1317.63px;top:805.41px;font-size:13.9px;font-weight:400;letter-spacing:0px;color:#3b4246;transform:scaleX(1.0699);-webkit-text-stroke-width:0.3px;"><b>Destinação</b></div>
<div class="t" style="left:1317.63px;top:824.41px;font-size:13.9px;font-weight:400;letter-spacing:0px;color:#3b4246;transform:scaleX(1.0727);-webkit-text-stroke-width:0.3px;"><b>inadequada</b></div>
<div class="t" style="left:1318.7px;top:843.31px;font-size:13.9px;font-weight:400;letter-spacing:0px;color:#3b4246;transform:scaleX(1.1041);-webkit-text-stroke-width:0.3px;">ambientalmente</div>
<div class="t" style="left:1687.4px;top:807.01px;font-size:13.9px;font-weight:400;letter-spacing:0px;color:#3b4246;transform:scaleX(1.0340);-webkit-text-stroke-width:0.3px;"><b>Situações não</b></div>
<div class="t" style="left:1687.4px;top:826.01px;font-size:13.9px;font-weight:400;letter-spacing:0px;color:#3b4246;transform:scaleX(1.0765);-webkit-text-stroke-width:0.3px;">enquadradas</div>
<div class="t" style="left:1066px;top:995.21px;font-size:13.9px;font-weight:400;letter-spacing:0px;color:#3b4246;transform:scaleX(1.0614);-webkit-text-stroke-width:0.3px;"><b>Com coleta</b> direta</div>
<div class="t" style="left:1066px;top:1014.51px;font-size:13.9px;font-weight:400;letter-spacing:0px;color:#3b4246;transform:scaleX(1.1062);-webkit-text-stroke-width:0.3px;">ou indireta</div>
<div class="t" style="left:1064.93px;top:1037.11px;font-size:13.9px;font-weight:400;letter-spacing:0px;color:#3b4246;transform:scaleX(1.0725);-webkit-text-stroke-width:0.3px;"><b>Destinação adequada</b></div>
<div class="t" style="left:1066px;top:1056.01px;font-size:13.9px;font-weight:400;letter-spacing:0px;color:#3b4246;transform:scaleX(1.1143);-webkit-text-stroke-width:0.3px;">ambientalmente</div>
<div class="t" style="left:1317.63px;top:995.61px;font-size:13.9px;font-weight:400;letter-spacing:0px;color:#3b4246;transform:scaleX(1.0699);-webkit-text-stroke-width:0.3px;"><b>Destinação</b></div>
<div class="t" style="left:1317.63px;top:1014.51px;font-size:13.9px;font-weight:400;letter-spacing:0px;color:#3b4246;transform:scaleX(1.0727);-webkit-text-stroke-width:0.3px;"><b>inadequada</b></div>
<div class="t" style="left:1318.7px;top:1033.21px;font-size:13.9px;font-weight:400;letter-spacing:0px;color:#3b4246;transform:scaleX(1.1041);-webkit-text-stroke-width:0.3px;">ambientalmente</div>
<div class="t" style="left:1687.4px;top:995.61px;font-size:13.9px;font-weight:400;letter-spacing:0px;color:#3b4246;transform:scaleX(1.0340);-webkit-text-stroke-width:0.3px;"><b>Situações não</b></div>
<div class="t" style="left:1687.4px;top:1014.51px;font-size:13.9px;font-weight:400;letter-spacing:0px;color:#3b4246;transform:scaleX(1.0765);-webkit-text-stroke-width:0.3px;">enquadradas</div>
<div class="t" style="left:1064.2px;top:1154.01px;font-size:11.4px;font-weight:400;letter-spacing:0px;color:#3b4246;transform:scaleX(1.1199);-webkit-text-stroke-width:0.2px;"><b>CRITÉRIOS:</b> <svg class='cn' width='10' height='10' viewBox='0 0 10 10'><circle cx='5' cy='5' r='4.3' fill='none' stroke='#2e363a' stroke-width='0.9'/><text x='5' y='7.6' font-size='7.6' font-weight='700' text-anchor='middle' fill='#2e363a' font-family='Liberation Sans'>1</text></svg> Em função de suas particularidades, o componente drenagem e manejo das águas pluviais urbanas</div>
<div class="t" style="left:1064.2px;top:1169.91px;font-size:11.4px;font-weight:400;letter-spacing:0px;color:#3b4246;transform:scaleX(1.1317);-webkit-text-stroke-width:0.2px;">teve abordagem distinta. <svg class='cn' width='10' height='10' viewBox='0 0 10 10'><circle cx='5' cy='5' r='4.3' fill='none' stroke='#2e363a' stroke-width='0.9'/><text x='5' y='7.6' font-size='7.6' font-weight='700' text-anchor='middle' fill='#2e363a' font-family='Liberation Sans'>2</text></svg> Por “fossa séptica” pressupõe-se a “fossa séptica sucedida por pós-tratamento ou</div>
<div class="t" style="left:1063.07px;top:1186.21px;font-size:11.4px;font-weight:400;letter-spacing:0px;color:#3b4246;transform:scaleX(1.1312);-webkit-text-stroke-width:0.2px;">unidade de disposição final, adequadamente projetada e construída”.&nbsp; Nas áreas rurais, o Programa Nacional de</div>
<div class="t" style="left:1063.08px;top:1202.71px;font-size:11.4px;font-weight:400;letter-spacing:0px;color:#3b4246;transform:scaleX(1.1161);-webkit-text-stroke-width:0.2px;">Saneamento Rural – PNSR considera a fossa seca como atendimento adequado nos casos de indisponibilidade</div>
<div class="t" style="left:1063.07px;top:1219.11px;font-size:11.4px;font-weight:400;letter-spacing:0px;color:#3b4246;transform:scaleX(1.1342);-webkit-text-stroke-width:0.2px;">hídrica. <svg class='cn' width='10' height='10' viewBox='0 0 10 10'><circle cx='5' cy='5' r='4.3' fill='none' stroke='#2e363a' stroke-width='0.9'/><text x='5' y='7.6' font-size='7.6' font-weight='700' text-anchor='middle' fill='#2e363a' font-family='Liberation Sans'>3</text></svg> A exemplo de coleta de água em cursos de água ou poços à longa distância; lançamento direto de esgoto</div>
<div class="t" style="left:1064.2px;top:1235.51px;font-size:11.4px;font-weight:400;letter-spacing:0px;color:#3b4246;transform:scaleX(1.1316);-webkit-text-stroke-width:0.2px;">em valas, rio, lago, mar ou outra forma pela unidade domiciliar; ausência de coleta, com resíduos queimados ou</div>
<div class="t" style="left:1064.2px;top:1251.41px;font-size:11.4px;font-weight:400;letter-spacing:0px;color:#3b4246;transform:scaleX(1.1536);-webkit-text-stroke-width:0.2px;">enterrados, jogados em terreno baldio, logradouro, rio, lago ou mar ou outro destino pela unidade domiciliar.</div>
</body></html>
